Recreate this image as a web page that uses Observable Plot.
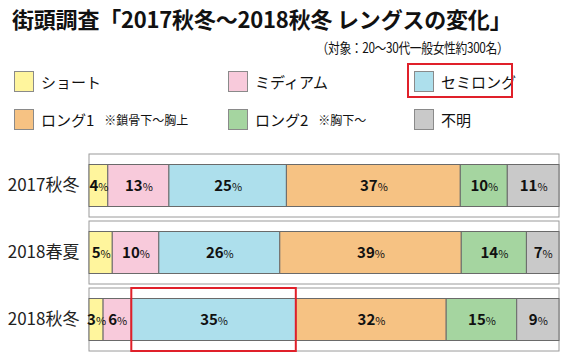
<!DOCTYPE html>
<html><head><meta charset="utf-8">
<script src="https://cdn.jsdelivr.net/npm/d3@7"></script>
<script src="https://cdn.jsdelivr.net/npm/@observablehq/plot@0.6"></script>
<style>
body{margin:0;background:#fff;font-family:"Noto Sans CJK JP","Noto Sans",sans-serif;color:#111;}
#wrap{width:567px;}
#head{position:relative;width:567px;height:140px;}
.title{position:absolute;left:12px;top:5px;font-size:22px;font-weight:bold;line-height:26px;white-space:nowrap;letter-spacing:-0.2px;}
.sub{position:absolute;right:59px;top:37px;font-size:14px;line-height:20px;white-space:nowrap;letter-spacing:-0.4px;transform:scaleX(0.84);transform-origin:right center;}
.item{position:absolute;height:22px;display:flex;align-items:center;white-space:nowrap;font-size:15px;}
.sw{width:20px;height:21px;border:1px solid #8a8a8a;box-sizing:border-box;margin-right:7px;}
.note{font-size:12px;margin-left:10px;}
.hl{position:absolute;left:407px;top:63px;width:106px;height:35px;border:2px solid #E0202A;box-sizing:border-box;}
</style></head>
<body><div id="wrap"><div id="head"></div><div id="chart"></div></div>
<script>
const years = ["2017秋冬","2018春夏","2018秋冬"];
const categories = ["ショート","ミディアム","セミロング","ロング1","ロング2","不明"];
const notes = ["","","","※鎖骨下～胸上","※胸下～",""];
const colors = ["#FFF59D","#F8CADB","#ADDFEC","#F6C283","#A5D5A0","#C9C9C9"];
const values2017aw = [4,13,25,37,10,11];
const values2018ss = [5,10,26,39,14,7];
const values2018aw = [3,6,35,32,15,9];
const gridTicks = [0.2,0.4,0.6,0.8];
const highlightYear = "2018秋冬";
const highlightCat = "セミロング";
const titleText = "街頭調査「2017秋冬～2018秋冬 レングスの変化」";
const subText = "（対象：20～30代一般女性約300名）";

const series = [values2017aw, values2018ss, values2018aw];
const data = [];
years.forEach((y,i)=>categories.forEach((c,j)=>data.push({year:y,cat:c,value:series[i][j]})));
const grid = [];
years.forEach(y=>gridTicks.forEach(t=>grid.push({year:y,x:t})));

// header
const head = document.getElementById("head");
const t = document.createElement("div"); t.className="title"; t.textContent=titleText; head.append(t);
const s = document.createElement("div"); s.className="sub"; s.textContent=subText; head.append(s);
const colX = [14,228,414], rowY = [70,108];
categories.forEach((c,i)=>{
  const it = document.createElement("div"); it.className="item";
  it.style.left = colX[i%3]+"px"; it.style.top = rowY[Math.floor(i/3)]+"px";
  const sw = document.createElement("div"); sw.className="sw"; sw.style.background=colors[i];
  const lb = document.createElement("span"); lb.textContent=c;
  it.append(sw,lb);
  if(notes[i]){const n=document.createElement("span");n.className="note";n.textContent=notes[i];it.append(n);}
  head.append(it);
});
const hl = document.createElement("div"); hl.className="hl"; head.append(hl);

const plot = Plot.plot({
  width:567, height:219,
  marginLeft:89, marginRight:8, marginTop:13, marginBottom:8,
  style:{fontFamily:'"Noto Sans CJK JP","Noto Sans",sans-serif', color:"#222", background:"#fff"},
  x:{domain:[0,1], axis:null},
  y:{domain:years, paddingInner:0.0667, paddingOuter:0, label:null},
  color:{domain:categories, range:colors},
  opacity:{type:"identity"},
  marks:[
    Plot.axisY({tickSize:0, tickPadding:10, fontSize:17, label:null}),
    Plot.barX(years,{y:d=>d, x1:0, x2:1, fill:"white", stroke:"#9a9a9a", strokeWidth:1}),
    Plot.ruleX(grid,{x:"x", y:"year", stroke:"#222", strokeWidth:1, strokeDasharray:"2,2"}),
    Plot.barX(data, Plot.stackX({x:"value", y:"year", fill:"cat", z:"cat", offset:"normalize", stroke:"#6a6a6a", strokeWidth:1, insetTop:10.5, insetBottom:10.5})),
    Plot.text(data, Plot.stackX({x:"value", y:"year", z:"cat", offset:"normalize", text:d=>String(d.value), fontSize:15, fontWeight:"bold", fill:"#111"})),
    Plot.barX(data, Plot.stackX({x:"value", y:"year", z:"cat", offset:"normalize", fill:"none", stroke:"#E0202A", strokeWidth:2,
      strokeOpacity:d=>(d.year===highlightYear && d.cat===highlightCat)?1:0}))
  ]
});
document.getElementById("chart").append(plot);
const ns="http://www.w3.org/2000/svg";
plot.querySelectorAll('g[aria-label="text"] text').forEach(tx=>{
  const v = tx.textContent; tx.textContent="";
  const a=document.createElementNS(ns,"tspan"); a.textContent=v;
  const b=document.createElementNS(ns,"tspan"); b.textContent="%"; b.setAttribute("font-size","11"); b.setAttribute("font-weight","normal");
  tx.append(a,b);
});
</script></body></html>
